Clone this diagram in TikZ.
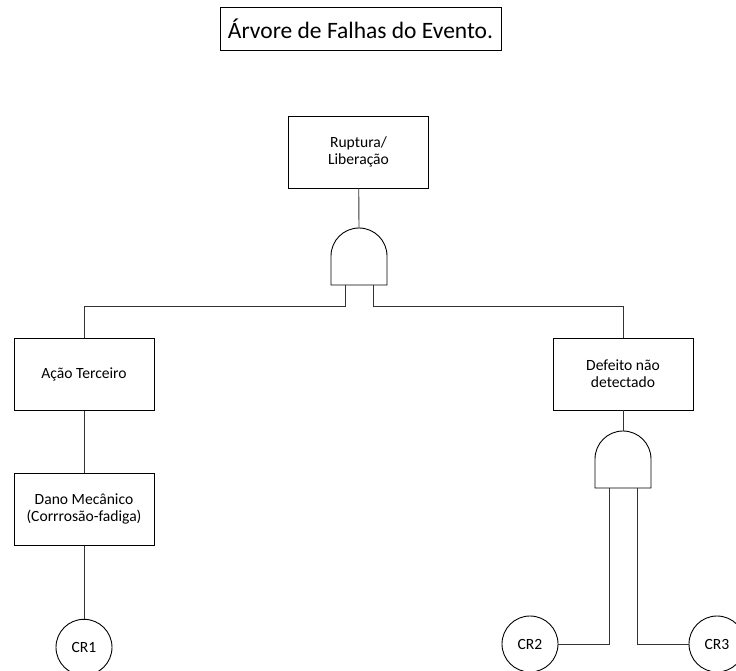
\documentclass[tikz,border=0pt]{standalone}
\usepackage{fontspec}
\setmainfont{Carlito}
\usetikzlibrary{positioning}
\tikzstyle{titlebox} = [rectangle, draw=black, line width=0.9pt, minimum width=281pt, minimum height=43pt, text centered, font=\fontsize{23.5}{27}\selectfont]
\tikzstyle{event} = [rectangle, draw=black, line width=0.9pt, minimum width=140pt, minimum height=72pt, align=center, font=\fontsize{15.6}{17}\selectfont]
\tikzstyle{basic} = [circle, draw=black, line width=0.9pt, minimum size=56pt, inner sep=0pt, font=\fontsize{15.6}{17}\selectfont]
\tikzstyle{wire} = [line width=0.9pt, draw=black!80]
\tikzset{
  andgate/.pic={
    \draw[line width=0.9pt] (-28,-57) -- (-28,-28) arc (180:0:28pt) -- (28,-57) -- cycle;
    \coordinate (-out) at (0,0);
    \coordinate (-a) at (-14,-57);
    \coordinate (-b) at (14,-57);
  }
}

\begin{document}
\begin{tikzpicture}[x=1pt, y=1pt]
  \useasboundingbox (0,0) rectangle (736,-671);
		\node (title) [titlebox] at (360.5,-28.5) {Árvore de Falhas do Evento.};
		\node (top) [event] at (358.5,-152) {Ruptura/\\Liberação};
		\pic (g1) at (359,-228) {andgate};
		\node (acao) [event] at (84,-374.5) {Ação Terceiro};
		\node (dano) [event, below=62pt of acao] {Dano Mecânico\\(Corrrosão-fadiga)};
		\node (cr1) [basic, below=73pt of dano] {CR1};
		\node (defeito) [event] at (623,-374) {Defeito não\\detectado};
		\pic (g2) at (623,-431) {andgate};
		\node (cr2) [basic] at (530,-644) {CR2};
		\node (cr3) [basic] at (717,-644) {CR3};
		\draw [wire] (top) -- (g1-out);
		\draw [wire] (g1-a) -- ++(0,-21) -| (acao.north);
		\draw [wire] (g1-b) -- ++(0,-21) -| (defeito.north);
		\draw [wire] (acao) -- (dano);
		\draw [wire] (dano) -- (cr1);
		\draw [wire] (defeito) -- (g2-out);
		\draw [wire] (g2-a) |- (cr2);
		\draw [wire] (g2-b) |- (cr3);
	\end{tikzpicture}
\end{document}
